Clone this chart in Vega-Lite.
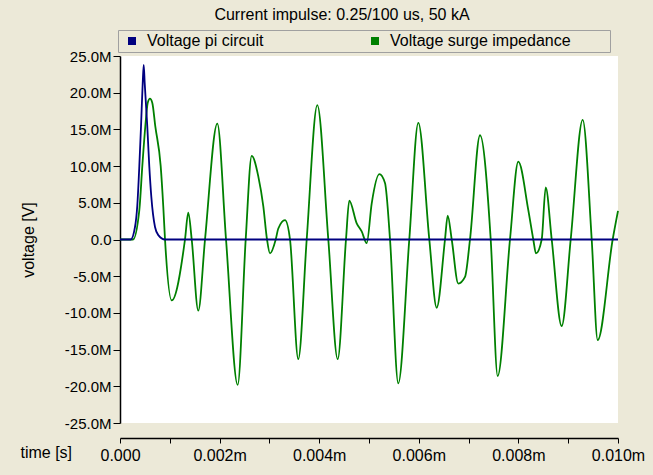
{
  "$schema": "https://vega.github.io/schema/vega-lite/v6.json",
  "width": 498,
  "height": 367,
  "autosize": {"type": "none"},
  "padding": {"left": 120, "top": 56, "right": 35, "bottom": 52},
  "background": "#ECE9D8",
  "title": {
    "text": "Current impulse: 0.25/100 us, 50 kA",
    "font": "Liberation Sans",
    "fontSize": 16,
    "fontWeight": "normal",
    "color": "#000000",
    "anchor": "middle",
    "frame": "group",
    "dx": -27,
    "offset": 7
  },
  "config": {
    "view": {"stroke": null, "fill": "#FFFFFF"},
    "font": "Liberation Sans"
  },
  "datasets": {
    "surge": [
      {"t": 0, "v": 0}, {"t": 0.000261, "v": 0}, {"t": 0.000388, "v": 4000000}, {"t": 0.000448, "v": 10000000},
      {"t": 0.000508, "v": 15400000}, {"t": 0.000556, "v": 18600000}, {"t": 0.000602, "v": 19200000}, {"t": 0.000649, "v": 18600000},
      {"t": 0.000709, "v": 15400000}, {"t": 0.000817, "v": 10000000}, {"t": 0.000869, "v": 4500000}, {"t": 0.000904, "v": 0},
      {"t": 0.001038, "v": -8300000}, {"t": 0.001305, "v": 0}, {"t": 0.001371, "v": 3650000}, {"t": 0.00144, "v": 0},
      {"t": 0.001572, "v": -9700000}, {"t": 0.001707, "v": 0}, {"t": 0.001954, "v": 15800000}, {"t": 0.002129, "v": 0},
      {"t": 0.002363, "v": -19800000}, {"t": 0.002524, "v": 0}, {"t": 0.002645, "v": 11400000}, {"t": 0.002777, "v": 8600000},
      {"t": 0.002878, "v": 4500000}, {"t": 0.002952, "v": 0}, {"t": 0.003012, "v": -1900000}, {"t": 0.003127, "v": 0},
      {"t": 0.003179, "v": 1500000}, {"t": 0.003313, "v": 2650000}, {"t": 0.003414, "v": 0}, {"t": 0.00358, "v": -16300000},
      {"t": 0.003749, "v": 0}, {"t": 0.003962, "v": 18300000}, {"t": 0.004183, "v": 0}, {"t": 0.004371, "v": -16300000},
      {"t": 0.004538, "v": 0}, {"t": 0.004604, "v": 5300000}, {"t": 0.004753, "v": 2200000}, {"t": 0.004853, "v": 1100000},
      {"t": 0.004954, "v": -500000}, {"t": 0.005054, "v": 4900000}, {"t": 0.005207, "v": 8900000}, {"t": 0.005321, "v": 7700000},
      {"t": 0.005422, "v": 0}, {"t": 0.005588, "v": -19600000}, {"t": 0.005809, "v": 0}, {"t": 0.00599, "v": 15900000},
      {"t": 0.006211, "v": 0}, {"t": 0.006359, "v": -9300000}, {"t": 0.006526, "v": 0}, {"t": 0.00658, "v": 3250000},
      {"t": 0.006661, "v": 0}, {"t": 0.006793, "v": -6000000}, {"t": 0.006928, "v": -5100000}, {"t": 0.007028, "v": 0},
      {"t": 0.007229, "v": 14200000}, {"t": 0.007444, "v": 0}, {"t": 0.007584, "v": -18600000}, {"t": 0.007831, "v": 0},
      {"t": 0.007998, "v": 10600000}, {"t": 0.008199, "v": 4000000}, {"t": 0.008299, "v": 0}, {"t": 0.008353, "v": -1900000},
      {"t": 0.008468, "v": 0}, {"t": 0.008548, "v": 7100000}, {"t": 0.008669, "v": 0}, {"t": 0.008869, "v": -11800000},
      {"t": 0.00905, "v": 0}, {"t": 0.009291, "v": 16300000}, {"t": 0.009472, "v": 0}, {"t": 0.009592, "v": -13700000},
      {"t": 0.009893, "v": 0}, {"t": 0.01, "v": 3900000}
    ],
    "pi": [
      {"t": 0, "v": 0}, {"t": 0.000215, "v": 0}, {"t": 0.000301, "v": 1700000}, {"t": 0.000347, "v": 4600000},
      {"t": 0.000388, "v": 10000000}, {"t": 0.000422, "v": 15400000}, {"t": 0.000456, "v": 21300000}, {"t": 0.000476, "v": 23800000},
      {"t": 0.000496, "v": 21300000}, {"t": 0.000548, "v": 15400000}, {"t": 0.000588, "v": 10000000}, {"t": 0.000629, "v": 5800000},
      {"t": 0.000703, "v": 1700000}, {"t": 0.000769, "v": 600000}, {"t": 0.000904, "v": 0}, {"t": 0.01, "v": 0}
    ]
  },
  "encoding": {
    "x": {
      "field": "t",
      "type": "quantitative",
      "scale": {"domain": [0, 0.01], "nice": false},
      "axis": {
        "title": "time [s]",
        "titleX": -100,
        "titleY": 19,
        "titleAlign": "left",
        "titleBaseline": "alphabetic",
        "titleAngle": 0,
        "titleFontSize": 16,
        "titleFontWeight": "normal",
        "titleColor": "#000000",
        "values": [0, 0.001, 0.002, 0.003, 0.004, 0.005, 0.006, 0.007, 0.008, 0.009, 0.01],
        "labelExpr": "round(datum.value*1000) % 2 != 0 ? '' : (datum.value == 0 ? '0.000' : format(datum.value, '.3f') + 'm')",
        "labelOverlap": false,
        "labelFlush": false,
        "labelFontSize": 16,
        "labelColor": "#000000",
        "labelPadding": 4,
        "tickSize": 5,
        "tickColor": "#000000",
        "domainColor": "#000000",
        "domainWidth": 1.5,
        "offset": 15,
        "grid": false
      }
    },
    "y": {
      "field": "v",
      "type": "quantitative",
      "scale": {"domain": [-25000000, 25000000], "nice": false},
      "axis": {
        "title": "voltage [V]",
        "titleX": -92,
        "titleY": 183.5,
        "titleAngle": -90,
        "titleAlign": "center",
        "titleBaseline": "middle",
        "titleFontSize": 16,
        "titleFontWeight": "normal",
        "titleColor": "#000000",
        "values": [-25000000, -20000000, -15000000, -10000000, -5000000, 0, 5000000, 10000000, 15000000, 20000000, 25000000],
        "labelExpr": "datum.value == 0 ? '0.0' : (datum.value < 0 ? '-' : '') + format(abs(datum.value)/1000000, '.1f') + 'M'",
        "labelOverlap": false,
        "labelFlush": false,
        "labelFontSize": 15,
        "labelColor": "#000000",
        "labelPadding": 2,
        "tickSize": 7,
        "tickColor": "#000000",
        "domainColor": "#000000",
        "domainWidth": 1.5,
        "grid": false
      }
    }
  },
  "layer": [
    {
      "data": {"name": "surge"},
      "mark": {"type": "line", "interpolate": "monotone", "strokeWidth": 1.8},
      "encoding": {
        "color": {
          "datum": "Voltage surge impedance",
          "type": "nominal",
          "scale": {"domain": ["Voltage pi circuit", "Voltage surge impedance"], "range": ["#000080", "#008000"]},
          "legend": {
            "orient": "none",
            "legendX": -2,
            "legendY": -26,
            "direction": "horizontal",
            "columns": 2,
            "gridAlign": "all",
            "title": null,
            "symbolType": "square",
            "symbolSize": 64,
            "symbolStrokeWidth": 0,
            "symbolOffset": 3,
            "labelFontSize": 16,
            "labelColor": "#000000",
            "labelOffset": 7,
            "labelLimit": 400,
            "labelExpr": "datum.label + '\u2800\u2800\u2800'",
            "columnPadding": 0,
            "padding": 3,
            "fillColor": "#ECE9D8",
            "strokeColor": "#A0A0A0",
            "encode": {"symbols": {"update": {"fill": {"scale": "color", "field": "value"}, "opacity": {"value": 1}}}}
          }
        }
      }
    },
    {
      "data": {"name": "pi"},
      "mark": {"type": "line", "interpolate": "monotone", "strokeWidth": 1.8},
      "encoding": {
        "color": {
          "datum": "Voltage pi circuit",
          "type": "nominal",
          "scale": {"domain": ["Voltage pi circuit", "Voltage surge impedance"], "range": ["#000080", "#008000"]}
        }
      }
    }
  ]
}
